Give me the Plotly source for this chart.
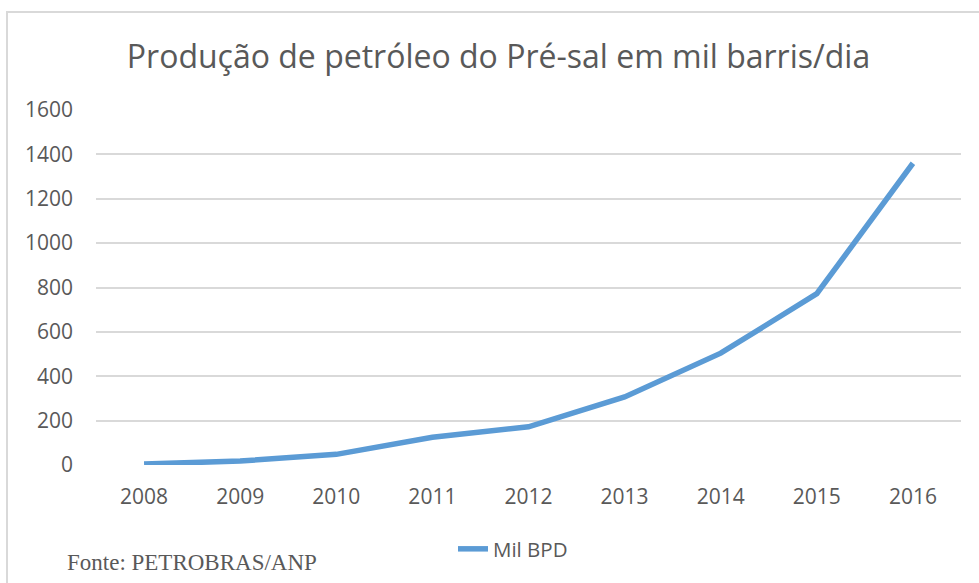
import plotly.graph_objects as go

anos = ["2008", "2009", "2010", "2011", "2012", "2013", "2014", "2015", "2016"]
mil_bpd = [4, 18, 48, 125, 172, 307, 504, 772, 1360]
y_ticks = [0, 200, 400, 600, 800, 1000, 1200, 1400, 1600]

W, H = 979, 583
L, R, T, B = 96, 18, 110, 118
pw, ph = W - L - R, H - T - B

cinza = "#595959"
azul = "#5B9BD5"

fig = go.Figure()
fig.add_trace(go.Scatter(
    x=anos, y=mil_bpd, mode="lines", name="Mil BPD",
    line=dict(color=azul, width=5.5),
    hoverinfo="x+y",
))


def px_x(p):
    return (p - L) / pw


def px_y(p):
    return (H - B - p) / ph


# borda cinza clara do gráfico (estilo Excel)
fig.add_shape(type="rect", xref="paper", yref="paper",
              x0=px_x(7), x1=px_x(1000), y0=px_y(600), y1=px_y(12),
              line=dict(color="#D9D9D9", width=2), layer="below")

fig.add_annotation(text="Fonte: PETROBRAS/ANP", xref="paper", yref="paper",
                   x=px_x(65), y=px_y(562), xanchor="left", yanchor="middle",
                   showarrow=False,
                   font=dict(family="Liberation Serif", size=23, color=cinza))

fig.update_layout(
    width=W, height=H,
    margin=dict(l=L, r=R, t=T, b=B),
    paper_bgcolor="white", plot_bgcolor="white",
    font=dict(family="Open Sans", color=cinza, size=21),
    title=dict(text="Produção de petróleo do Pré-sal em mil barris/dia",
               x=498.5 / W, xanchor="center", y=1 - 57 / H, yanchor="middle",
               font=dict(family="Open Sans", size=32, color=cinza)),
    showlegend=True,
    legend=dict(orientation="h", x=px_x(513), xanchor="center",
                y=px_y(549), yanchor="middle",
                font=dict(size=20.5, color=cinza), bgcolor="rgba(0,0,0,0)"),
)

fig.update_xaxes(type="category", range=[-0.5, 8.5], showgrid=False,
                 showline=False, zeroline=False, ticks="",
                 ticklabelstandoff=17, tickfont=dict(size=21, color=cinza))
fig.update_yaxes(range=[0, 1600], tickvals=y_ticks, showgrid=True,
                 gridcolor="#D9D9D9", gridwidth=1.5, zeroline=False,
                 showline=False, ticks="", ticklabelstandoff=22,
                 tickfont=dict(size=21, color=cinza))

fig.write_html("out.html", config={"displayModeBar": False},
               post_script="document.body.style.margin='0';")
